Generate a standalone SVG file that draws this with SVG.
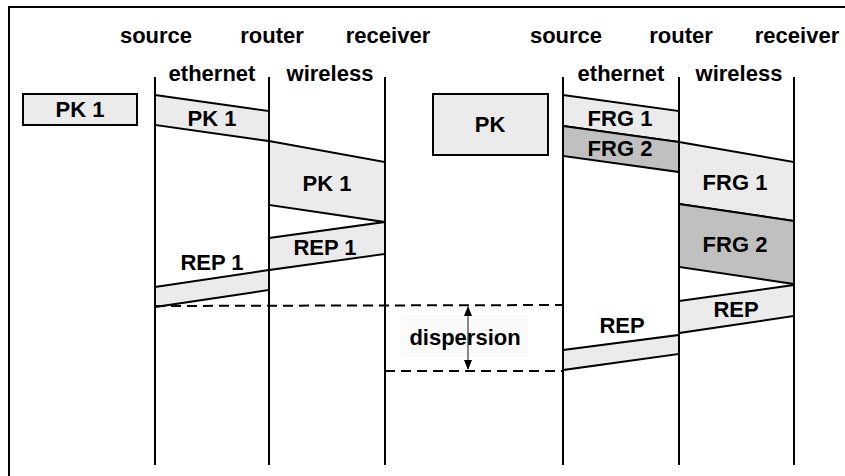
<svg xmlns="http://www.w3.org/2000/svg" width="845" height="476" viewBox="0 0 845 476">
<style>
.t{font-family:"Liberation Sans",Arial,sans-serif;font-weight:bold;font-size:22px;fill:#000;text-anchor:middle}
.lt{fill:#ebebeb;stroke:#000;stroke-width:2;stroke-linejoin:miter}
.dk{fill:#c0c0c0;stroke:#000;stroke-width:2}
.life{stroke:#000;stroke-width:2;fill:none}
.dash{stroke:#000;stroke-width:2;stroke-dasharray:10 6;fill:none}
</style>
<defs>
<marker id="ah" viewBox="0 0 10 10" refX="9" refY="5" markerWidth="10" markerHeight="10" markerUnits="userSpaceOnUse" orient="auto-start-reverse">
<path d="M0,1 L10,5 L0,9 Z" fill="#000"/>
</marker>
</defs>
<rect x="0" y="0" width="845" height="476" fill="#fff"/>
<path d="M9,476 L9,7 L845,7" stroke="#000" stroke-width="2" fill="none"/>

<g id="headers">
<text class="t" x="156" y="43">source</text>
<text class="t" x="272" y="43">router</text>
<text class="t" x="388" y="43">receiver</text>
<text class="t" x="212" y="81">ethernet</text>
<text class="t" x="330" y="81">wireless</text>
<text class="t" x="566" y="43">source</text>
<text class="t" x="681" y="43">router</text>
<text class="t" x="797" y="43">receiver</text>
<text class="t" x="621" y="81">ethernet</text>
<text class="t" x="739" y="81">wireless</text>
</g>

<g id="pk1-box"><rect class="lt" x="23" y="94" width="114" height="31"/><text class="t" x="80" y="117">PK 1</text></g>
<g id="pk1-eth"><polygon class="lt" points="155,95 269,111 269,141 155,125"/><text class="t" x="212" y="126">PK 1</text></g>
<g id="pk1-wl"><polygon class="lt" points="269,141 385,162 385,222 269,205"/><text class="t" x="327" y="191">PK 1</text></g>
<g id="rep1-wl"><polygon class="lt" points="269,238 385,222 385,254 269,270"/><text class="t" x="325" y="255">REP 1</text></g>
<g id="rep1-eth"><polygon class="lt" points="155,287 269,270 269,290 155,307"/><text class="t" x="212" y="270">REP 1</text></g>

<g id="pk-box"><rect class="lt" x="433" y="94" width="115" height="61"/><text class="t" x="490" y="132">PK</text></g>
<g id="frg1-eth"><polygon class="lt" points="563,95 679,111 679,142 563,126"/></g>
<g id="frg2-eth"><polygon class="dk" points="563,126 679,142 679,172 563,156"/></g>
<g id="frg1-wl"><polygon class="lt" points="679,142 794,162 794,221 679,204"/><text class="t" x="735" y="190">FRG 1</text></g>
<g id="frg2-wl"><polygon class="dk" points="679,204 794,221 794,284 679,267"/><text class="t" x="735" y="252">FRG 2</text></g>
<g id="rep-wl"><polygon class="lt" points="679,301 794,285 794,316 679,333"/><text class="t" x="736" y="317">REP</text></g>
<g id="rep-eth"><polygon class="lt" points="563,350 679,335 679,354 563,370"/><text class="t" x="622" y="333">REP</text></g>
<g id="frg-eth-labels"><text class="t" x="620" y="126">FRG 1</text><text class="t" x="620" y="156">FRG 2</text></g>

<g id="lifelines">
<line class="life" x1="155" y1="77" x2="155" y2="465"/>
<line class="life" x1="269" y1="77" x2="269" y2="465"/>
<line class="life" x1="385" y1="77" x2="385" y2="465"/>
<line class="life" x1="563" y1="77" x2="563" y2="465"/>
<line class="life" x1="679" y1="77" x2="679" y2="465"/>
<line class="life" x1="794" y1="77" x2="794" y2="465"/>
</g>

<g id="connectors">
<line class="dash" x1="155" y1="306" x2="563" y2="305"/>
<line class="dash" x1="385" y1="371" x2="563" y2="371"/>
</g>

<g id="dispersion">
<rect x="401" y="315" width="127" height="42" fill="#fafafa"/>
<line x1="468" y1="307" x2="468" y2="369" stroke="#888" stroke-width="2" marker-start="url(#ah)" marker-end="url(#ah)"/>
<text class="t" x="465" y="345">dispersion</text>
</g>
</svg>
